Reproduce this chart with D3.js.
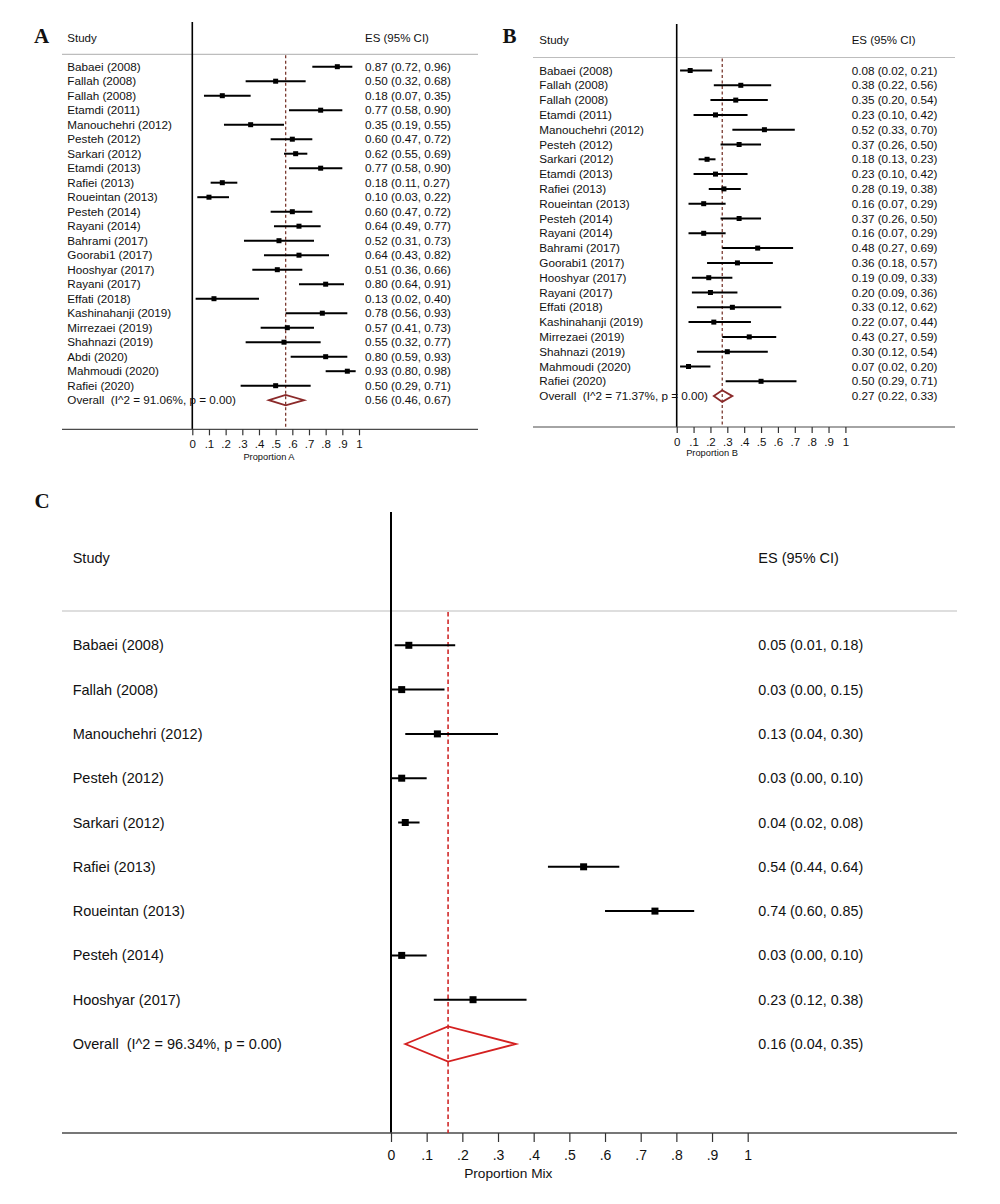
<!DOCTYPE html>
<html>
<head>
<meta charset="utf-8">
<script src="https://cdn.jsdelivr.net/npm/d3@7"></script>
<style>
  html, body { margin: 0; padding: 0; background: #fff; }
  svg { display: block; }
  text { font-family: "Liberation Sans", Arial, sans-serif; fill: #111; }
</style>
</head>
<body>
<svg id="chart" width="1000" height="1204"></svg>
<script>
// ---------------- DATA ----------------
const studiesA = ["Babaei (2008)","Fallah (2008)","Fallah (2008)","Etamdi (2011)","Manouchehri (2012)","Pesteh (2012)","Sarkari (2012)","Etamdi (2013)","Rafiei (2013)","Roueintan (2013)","Pesteh (2014)","Rayani (2014)","Bahrami (2017)","Goorabi1 (2017)","Hooshyar (2017)","Rayani (2017)","Effati (2018)","Kashinahanji (2019)","Mirrezaei (2019)","Shahnazi (2019)","Abdi (2020)","Mahmoudi (2020)","Rafiei (2020)"];
const esA  = [0.87,0.50,0.18,0.77,0.35,0.60,0.62,0.77,0.18,0.10,0.60,0.64,0.52,0.64,0.51,0.80,0.13,0.78,0.57,0.55,0.80,0.93,0.50];
const lowA = [0.72,0.32,0.07,0.58,0.19,0.47,0.55,0.58,0.11,0.03,0.47,0.49,0.31,0.43,0.36,0.64,0.02,0.56,0.41,0.32,0.59,0.80,0.29];
const upA  = [0.96,0.68,0.35,0.90,0.55,0.72,0.69,0.90,0.27,0.22,0.72,0.77,0.73,0.82,0.66,0.91,0.40,0.93,0.73,0.77,0.93,0.98,0.71];
const overallA = {es: 0.56, low: 0.46, up: 0.67, label: "Overall  (I^2 = 91.06%, p = 0.00)"};

const studiesB = ["Babaei (2008)","Fallah (2008)","Fallah (2008)","Etamdi (2011)","Manouchehri (2012)","Pesteh (2012)","Sarkari (2012)","Etamdi (2013)","Rafiei (2013)","Roueintan (2013)","Pesteh (2014)","Rayani (2014)","Bahrami (2017)","Goorabi1 (2017)","Hooshyar (2017)","Rayani (2017)","Effati (2018)","Kashinahanji (2019)","Mirrezaei (2019)","Shahnazi (2019)","Mahmoudi (2020)","Rafiei (2020)"];
const esB  = [0.08,0.38,0.35,0.23,0.52,0.37,0.18,0.23,0.28,0.16,0.37,0.16,0.48,0.36,0.19,0.20,0.33,0.22,0.43,0.30,0.07,0.50];
const lowB = [0.02,0.22,0.20,0.10,0.33,0.26,0.13,0.10,0.19,0.07,0.26,0.07,0.27,0.18,0.09,0.09,0.12,0.07,0.27,0.12,0.02,0.29];
const upB  = [0.21,0.56,0.54,0.42,0.70,0.50,0.23,0.42,0.38,0.29,0.50,0.29,0.69,0.57,0.33,0.36,0.62,0.44,0.59,0.54,0.20,0.71];
const overallB = {es: 0.27, low: 0.22, up: 0.33, label: "Overall  (I^2 = 71.37%, p = 0.00)"};

const studiesC = ["Babaei (2008)","Fallah (2008)","Manouchehri (2012)","Pesteh (2012)","Sarkari (2012)","Rafiei (2013)","Roueintan (2013)","Pesteh (2014)","Hooshyar (2017)"];
const esC  = [0.05,0.03,0.13,0.03,0.04,0.54,0.74,0.03,0.23];
const lowC = [0.01,0.00,0.04,0.00,0.02,0.44,0.60,0.00,0.12];
const upC  = [0.18,0.15,0.30,0.10,0.08,0.64,0.85,0.10,0.38];
const overallC = {es: 0.16, low: 0.04, up: 0.35, label: "Overall  (I^2 = 96.34%, p = 0.00)"};

const tickValues = [0,0.1,0.2,0.3,0.4,0.5,0.6,0.7,0.8,0.9,1];
const tickLabels = ["0",".1",".2",".3",".4",".5",".6",".7",".8",".9","1"];

// ---------------- DRAW ----------------
const svg = d3.select("#chart");
const fmt = d3.format(".2f");

function forest(cfg) {
  const g = svg.append("g");
  const n = cfg.studies.length;
  const x = d3.scaleLinear().domain([0, 1]).range([cfg.x0, cfg.x1]);
  const y = d3.scaleLinear().domain([0, n]).range([cfg.rowTop, cfg.rowTop + n * cfg.rowStep]);

  // panel letter
  g.append("text").attr("x", cfg.letterX).attr("y", cfg.letterY)
    .style("font-family", '"Liberation Serif", "Times New Roman", serif')
    .style("font-weight", "bold").style("font-size", cfg.letterSize + "px")
    .text(cfg.letter);

  // headers
  g.append("text").attr("x", cfg.labelX).attr("y", cfg.headY).attr("dy", "0.35em")
    .style("font-size", cfg.headSize + "px").text("Study");
  g.append("text").attr("x", cfg.esX).attr("y", cfg.headY).attr("dy", "0.35em")
    .style("font-size", cfg.headSize + "px").text("ES (95% CI)");

  // header separator
  g.append("line").attr("x1", cfg.lineL).attr("x2", cfg.lineR)
    .attr("y1", cfg.sepY).attr("y2", cfg.sepY)
    .attr("stroke", "#bdbdbd").attr("stroke-width", 1.2);

  // vertical null line
  g.append("line").attr("x1", x(0)).attr("x2", x(0))
    .attr("y1", cfg.vTop).attr("y2", cfg.axisY)
    .attr("stroke", "#000").attr("stroke-width", cfg.vWidth);

  // axis line
  g.append("line").attr("x1", cfg.lineL).attr("x2", cfg.lineR)
    .attr("y1", cfg.axisY).attr("y2", cfg.axisY)
    .attr("stroke", "#4a4a4a").attr("stroke-width", cfg.axisWidth);

  // axis ticks
  const axis = d3.axisBottom(x).tickValues(tickValues)
    .tickFormat((d, i) => tickLabels[i]).tickSize(cfg.tickLen).tickPadding(cfg.tickPad);
  const ag = g.append("g").attr("transform", `translate(0,${cfg.axisY})`).call(axis);
  ag.select(".domain").remove();
  ag.selectAll(".tick line").attr("stroke", "#333").attr("stroke-width", 1.2);
  ag.selectAll(".tick text").style("font-family", '"Liberation Sans", Arial, sans-serif')
    .style("font-size", cfg.tickSize + "px").attr("fill", "#111");

  // axis title
  g.append("text").attr("x", cfg.titleX).attr("y", cfg.titleY).attr("dy", "0.35em")
    .attr("text-anchor", "middle").style("font-size", cfg.titleSize + "px").text(cfg.title);

  // dashed overall line
  g.append("line").attr("x1", x(cfg.overall.es)).attr("x2", x(cfg.overall.es))
    .attr("y1", cfg.sepY + 1).attr("y2", cfg.axisY)
    .attr("stroke", cfg.dashColor).attr("stroke-width", cfg.dashWidth)
    .attr("stroke-dasharray", cfg.dash);

  const rows = cfg.studies.map((s, i) => ({s, es: cfg.es[i], lo: cfg.low[i], up: cfg.up[i], i}));

  // labels
  g.selectAll(".lab").data(rows).enter().append("text")
    .attr("x", cfg.labelX).attr("y", d => y(d.i)).attr("dy", "0.35em")
    .style("font-size", cfg.fontSize + "px").text(d => d.s);

  // ES texts
  g.selectAll(".est").data(rows).enter().append("text")
    .attr("x", cfg.esX).attr("y", d => y(d.i)).attr("dy", "0.35em")
    .style("font-size", cfg.esSize + "px")
    .text(d => `${fmt(d.es)} (${fmt(d.lo)}, ${fmt(d.up)})`);

  // CI lines
  g.selectAll(".ci").data(rows).enter().append("line")
    .attr("x1", d => x(d.lo)).attr("x2", d => x(d.up))
    .attr("y1", d => y(d.i)).attr("y2", d => y(d.i))
    .attr("stroke", "#000").attr("stroke-width", cfg.ciWidth);

  // squares
  g.selectAll(".sq").data(rows).enter().append("rect")
    .attr("x", d => x(d.es) - cfg.sq / 2).attr("y", d => y(d.i) - cfg.sq / 2)
    .attr("width", cfg.sq).attr("height", cfg.sq).attr("fill", "#000");

  // overall row
  const yo = y(n);
  g.append("text").attr("x", cfg.labelX).attr("y", yo).attr("dy", "0.35em")
    .style("font-size", cfg.fontSize + "px").style("white-space", "pre")
    .attr("xml:space", "preserve").text(cfg.overall.label);
  g.append("text").attr("x", cfg.esX).attr("y", yo).attr("dy", "0.35em")
    .style("font-size", cfg.esSize + "px")
    .text(`${fmt(cfg.overall.es)} (${fmt(cfg.overall.low)}, ${fmt(cfg.overall.up)})`);
  const o = cfg.overall;
  const dpath = d3.path();
  dpath.moveTo(x(o.low), yo);
  dpath.lineTo(x(o.es), yo - cfg.dh);
  dpath.lineTo(x(o.up), yo);
  dpath.lineTo(x(o.es), yo + cfg.dh);
  dpath.closePath();
  g.append("path").attr("d", dpath.toString()).attr("fill", "none")
    .attr("stroke", cfg.diamondColor).attr("stroke-width", cfg.diamondWidth)
    .attr("stroke-linejoin", "miter");
}

forest({
  letter: "A", letterX: 34, letterY: 42.5, letterSize: 21,
  studies: studiesA, es: esA, low: lowA, up: upA, overall: overallA,
  x0: 192.3, x1: 359, rowTop: 66.7, rowStep: 14.5,
  labelX: 67.3, esX: 365, headY: 37.5, headSize: 11.5, fontSize: 11.7, esSize: 11.7,
  lineL: 62, lineR: 478, sepY: 54.3, vTop: 22, vWidth: 1.6, axisY: 429.3, axisWidth: 1.2,
  tickLen: 6, tickPad: 5, tickSize: 11.5,
  title: "Proportion A", titleX: 269, titleY: 456.5, titleSize: 9.3,
  dashColor: "#7a3a30", dashWidth: 1.3, dash: "3,2.5",
  ciWidth: 2, sq: 5, dh: 5.2, diamondColor: "#8b2a2a", diamondWidth: 1.8
});

forest({
  letter: "B", letterX: 502.5, letterY: 42.5, letterSize: 21,
  studies: studiesB, es: esB, low: lowB, up: upB, overall: overallB,
  x0: 676.7, x1: 845.4, rowTop: 70.5, rowStep: 14.8,
  labelX: 539.3, esX: 851.7, headY: 40, headSize: 11.5, fontSize: 11.7, esSize: 11.7,
  lineL: 533, lineR: 955, sepY: 57.5, vTop: 24, vWidth: 1.6, axisY: 427, axisWidth: 1.2,
  tickLen: 6, tickPad: 5, tickSize: 11.5,
  title: "Proportion B", titleX: 712, titleY: 453, titleSize: 9.3,
  dashColor: "#7a3a30", dashWidth: 1.3, dash: "3,2.5",
  ciWidth: 2, sq: 5, dh: 5.8, diamondColor: "#8b2a2a", diamondWidth: 1.8
});

forest({
  letter: "C", letterX: 34.5, letterY: 508, letterSize: 21,
  studies: studiesC, es: esC, low: lowC, up: upC, overall: overallC,
  x0: 391, x1: 747.7, rowTop: 645.3, rowStep: 44.3,
  labelX: 72.7, esX: 758.3, headY: 557.7, headSize: 14.5, fontSize: 14.5, esSize: 14.3,
  lineL: 62, lineR: 957, sepY: 611, vTop: 512, vWidth: 2, axisY: 1133, axisWidth: 1.5,
  tickLen: 9, tickPad: 8, tickSize: 14,
  title: "Proportion Mix", titleX: 508.3, titleY: 1173, titleSize: 13.7,
  dashColor: "#d0292a", dashWidth: 1.6, dash: "4.5,3",
  ciWidth: 2, sq: 7, dh: 17.5, diamondColor: "#d42020", diamondWidth: 1.8
});
</script>
</body>
</html>
